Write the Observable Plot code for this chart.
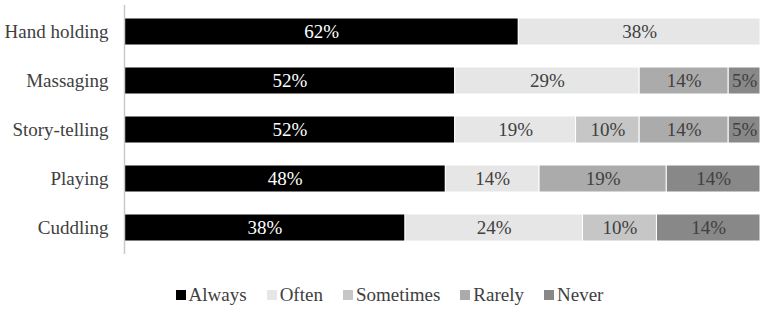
<!DOCTYPE html>
<html>
<head>
<meta charset="utf-8">
<script src="https://cdn.jsdelivr.net/npm/d3@7"></script>
<script src="https://cdn.jsdelivr.net/npm/@observablehq/plot@0.6"></script>
<style>
  html, body { margin: 0; padding: 0; background: #fff; }
  #chart { width: 765px; }
  .legend {
    display: flex; justify-content: center; align-items: center;
    margin-top: 19px; padding-left: 14px;
    font-family: 'Liberation Serif', 'Times New Roman', serif;
    font-size: 19px; color: #404040; line-height: 22px;
  }
  .legend .item { display: flex; align-items: center; margin: 0 10px; }
  .legend .sw { display: inline-block; width: 10px; height: 10px; margin-right: 3px; }
</style>
</head>
<body>
<div id="chart"></div>
<script>
const categories = ["Hand holding", "Massaging", "Story-telling", "Playing", "Cuddling"];
const responses = ["Always", "Often", "Sometimes", "Rarely", "Never"];
const colors = ["#000000", "#e6e6e6", "#c6c6c6", "#ababab", "#888888"];
// values per category, in response order (null = no segment)
const handHolding = [62, 38, null, null, null];
const massaging = [52, 29, null, 14, 5];
const storyTelling = [52, 19, 10, 14, 5];
const playing = [48, 14, null, 19, 14];
const cuddling = [38, 24, 10, null, 14];

const rows = [handHolding, massaging, storyTelling, playing, cuddling];
const data = [];
categories.forEach((c, i) => {
  rows[i].forEach((v, j) => {
    if (v != null) data.push({category: c, response: responses[j], value: v});
  });
});

const font = "'Liberation Serif', 'Times New Roman', serif";

const stackOpts = {
  x: "value", y: "category", z: "response",
  order: responses, offset: "normalize"
};

const plot = Plot.plot({
  width: 765,
  height: 265,
  marginLeft: 124,
  marginRight: 5,
  marginTop: 5,
  marginBottom: 11,
  style: {fontFamily: font, fontSize: "19px", color: "#404040", background: "#fff"},
  x: {axis: null, domain: [0, 1]},
  y: {domain: categories, paddingInner: 0.44, paddingOuter: 0.22, label: null, tickSize: 0, tickPadding: 16},
  color: {domain: responses, range: colors},
  marks: [
    Plot.axisY({fontSize: 19, tickSize: 0, tickPadding: 16, label: null, fill: "#404040"}),
    Plot.barX(data, Plot.stackX({...stackOpts, fill: "response", stroke: "white", strokeWidth: 1})),
    Plot.text(data, Plot.stackX({
      ...stackOpts,
      text: d => d.value + "%",
      fill: d => d.response === "Always" ? "white" : "#404040",
      fontSize: 19
    })),
    Plot.ruleX([0], {stroke: "#c8c8c8", strokeWidth: 1.5})
  ]
});

const chart = document.getElementById("chart");
chart.appendChild(plot);

const colorScale = plot.scale("color");
const legend = d3.select(chart).append("div").attr("class", "legend");
const items = legend.selectAll(".item").data(colorScale.domain).join("div").attr("class", "item");
items.append("span").attr("class", "sw").style("background", (d, i) => colorScale.range[i]);
items.append("span").text(d => d);
</script>
</body>
</html>
